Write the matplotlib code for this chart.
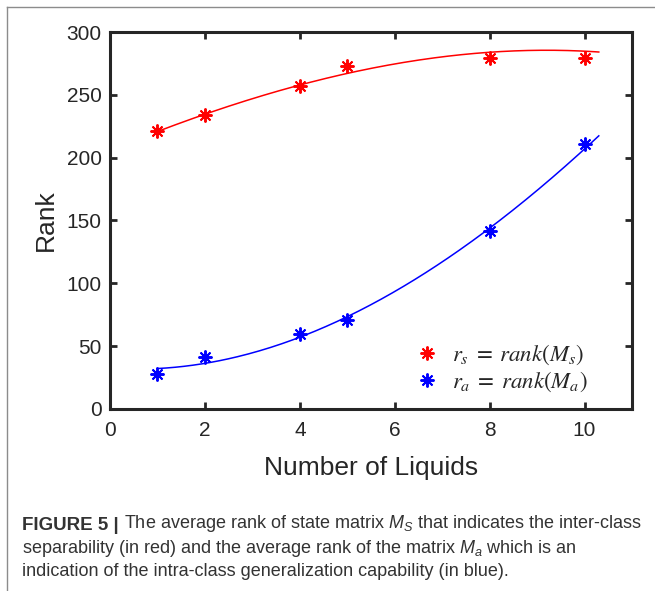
import numpy as np
import matplotlib
matplotlib.use("Agg")
import matplotlib.pyplot as plt
from matplotlib.lines import Line2D

plt.rcParams['font.family'] = ['Liberation Sans', 'DejaVu Sans']
plt.rcParams['mathtext.fontset'] = 'custom'
plt.rcParams['mathtext.it'] = 'Liberation Sans:italic'
plt.rcParams['mathtext.rm'] = 'Liberation Sans'

# Number of liquids and the average ranks
liquids = [1, 2, 4, 5, 8, 10]
rank_s = [221, 234, 257, 273, 279, 279]
rank_a = [28, 41, 60, 71, 142, 211]

# Trend-line samples for each series
trend_x_s = [1, 2, 4, 5, 6, 8, 10, 10.3]
trend_s = [221, 234.5, 256.5, 268, 275.5, 283, 284.5, 284.5]
trend_x_a = [1, 2, 3, 4, 5, 6.4, 8, 10.3]
trend_a = [31, 38, 45.6, 57, 71, 103, 145, 217]

x_ticks = [0, 2, 4, 6, 8, 10]
y_ticks = [0, 50, 100, 150, 200, 250, 300]

RED = '#ff0000'
BLUE = '#0000ff'
DARK = '#262626'

fig = plt.figure(figsize=(6.55, 5.91), dpi=100)
ax = fig.add_axes([110 / 655, 1 - 409 / 591, (632 - 110) / 655, (409 - 32) / 591])

# Smooth trend lines (cubic through the samples)
xs = np.linspace(trend_x_s[0], trend_x_s[-1], 200)
xa = np.linspace(trend_x_a[0], trend_x_a[-1], 200)
ax.plot(xs, np.polyval(np.polyfit(trend_x_s, trend_s, 3), xs), color=RED, lw=1.1)
ax.plot(xa, np.polyval(np.polyfit(trend_x_a, trend_a, 3), xa), color=BLUE, lw=1.1)

mk = dict(marker=(8, 2, 0), ms=10, mew=1.4, ls='none')
ax.plot(liquids, rank_s, color=RED, **mk)
ax.plot(liquids, rank_a, color=BLUE, **mk)

ax.set_xlim(0, 11)
ax.set_ylim(0, 300)
ax.set_xticks(x_ticks)
ax.set_yticks(y_ticks)
ax.tick_params(direction='in', length=5, width=2, colors=DARK, labelsize=15,
               top=True, right=True, pad=6)
ax.tick_params(axis='x', pad=9)
for s in ax.spines.values():
    s.set_linewidth(2.2)
    s.set_color(DARK)
ax.set_xlabel('Number of Liquids', fontsize=19, color=DARK, labelpad=11)
ax.set_ylabel('Rank', fontsize=19, color=DARK, labelpad=6)

handles = [Line2D([], [], color=RED, **mk), Line2D([], [], color=BLUE, **mk)]
leg = ax.legend(handles, [r'$r_s\;=\;rank(M_s)$', r'$r_a\;=\;rank(M_a)$'],
                loc='lower right', bbox_to_anchor=(0.955, -0.015), frameon=False,
                fontsize=16.5, handlelength=1.0, handletextpad=0.6, labelspacing=0.1)
for t in leg.get_texts():
    t.set_math_fontfamily('stix')
    t.set_color(DARK)

# Page frame lines
fig.add_artist(Line2D([7 / 655, 1], [1 - 7 / 591, 1 - 7 / 591], color='#8c8c8c', lw=1.0))
fig.add_artist(Line2D([7 / 655, 7 / 655], [0, 1 - 7 / 591], color='#8c8c8c', lw=1.0))

# Caption
CAP = '#333333'
cs = 13
t0 = fig.text(22 / 655, 1 - 530 / 591, 'FIGURE 5 |', fontsize=cs + 0.5, fontweight='bold',
              color=CAP, va='baseline')
ax.annotate(r' The average rank of state matrix $M_S$ that indicates the inter-class',
            xy=(1, 0), xycoords=t0, va='bottom', fontsize=cs, color=CAP,
            annotation_clip=False)
fig.text(22 / 655, 1 - 553 / 591,
         r'separability (in red) and the average rank of the matrix $M_a$ which is an',
         fontsize=cs, color=CAP, va='baseline')
fig.text(22 / 655, 1 - 576 / 591,
         'indication of the intra-class generalization capability (in blue).',
         fontsize=cs, color=CAP, va='baseline')

fig.savefig('out.png', dpi=100)
